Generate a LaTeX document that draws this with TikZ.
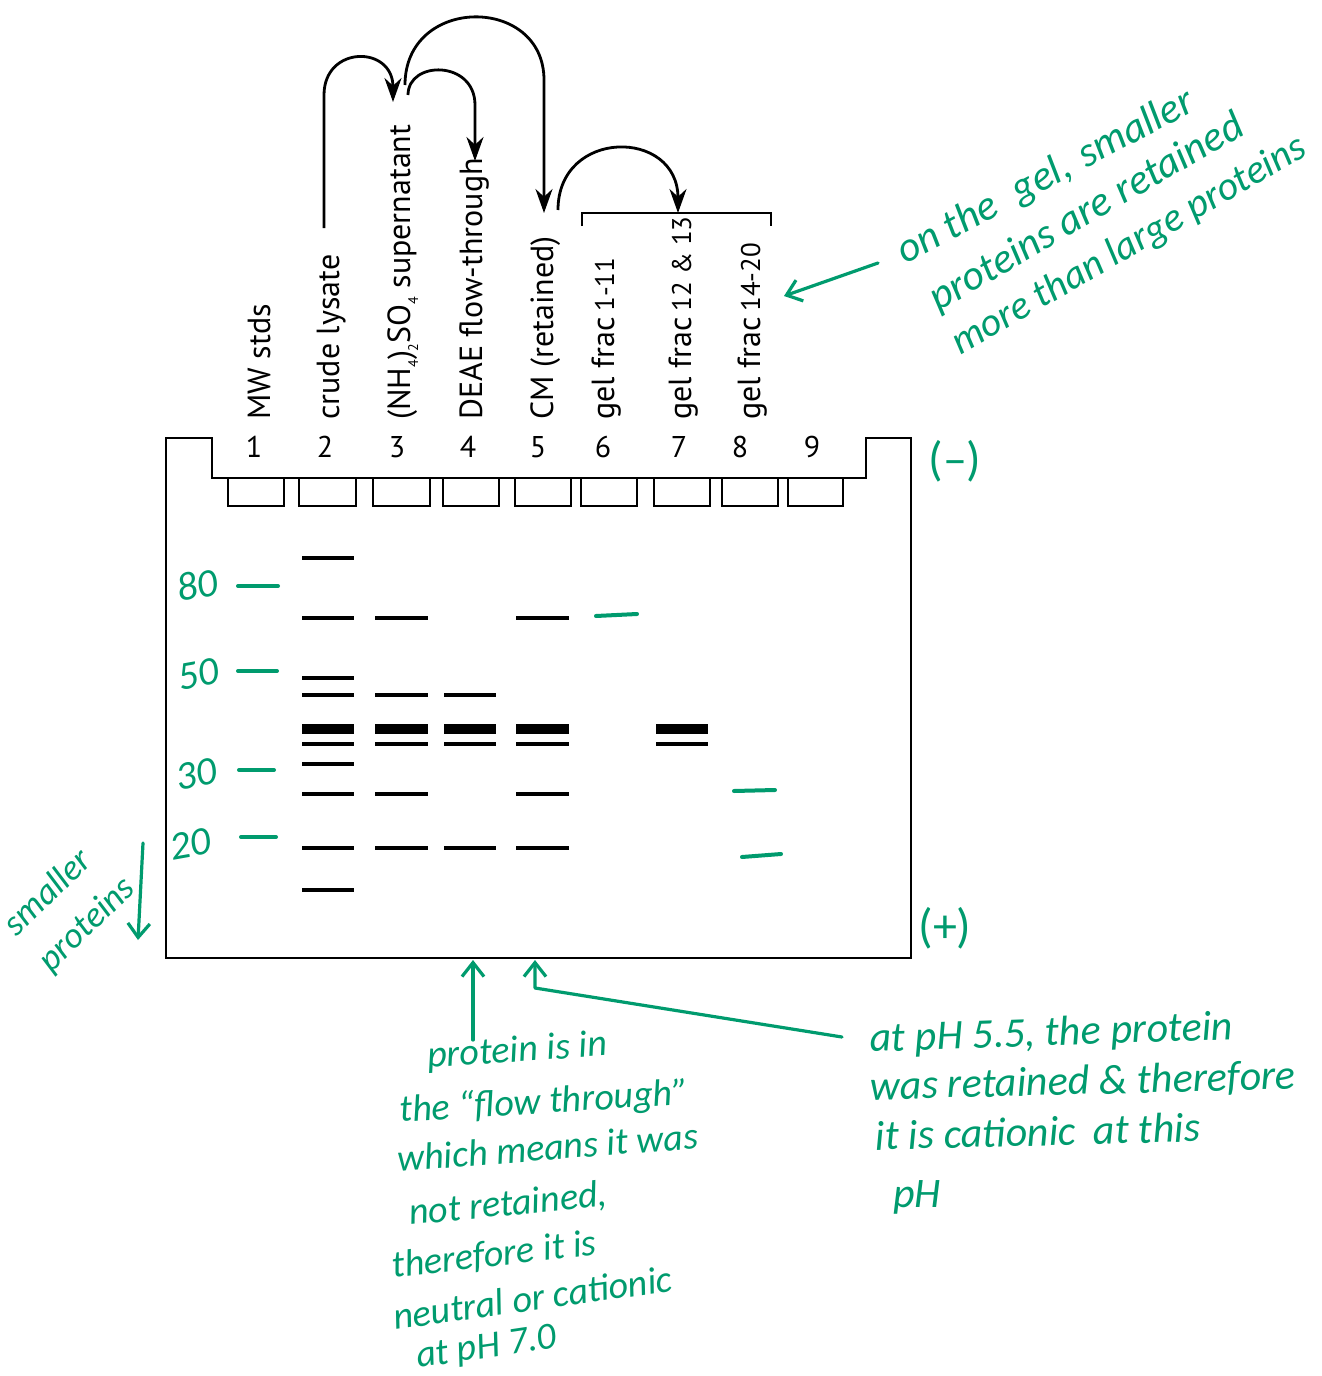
\documentclass[tikz,border=0pt]{standalone}
\usepackage{fontspec}
\setmainfont{PT Sans}
\newfontfamily\handfont{Carlito}
\usetikzlibrary{arrows.meta}
\definecolor{gcol}{RGB}{0,155,110}
\newcommand\subsc[1]{\raisebox{-0.5ex}{\fontsize{7}{8}\selectfont #1}}
\newcommand\dg[1]{{\fontsize{13.5}{16}\selectfont #1}}
\begin{document}
\begin{tikzpicture}[x=0.5pt,y=-0.5pt,
  lane/.style={rotate=90,anchor=base west,inner sep=0pt,font=\fontsize{16}{19}\selectfont},
  num/.style={inner sep=0pt,font=\fontsize{15}{17}\selectfont},
  flow/.style={line width=1.4pt,-{Stealth[length=12pt,width=8.5pt]}},
  gel/.style={line width=1.2pt,line join=miter},
  well/.style={line width=1.3pt},
  band/.style={fill=black},
  note/.style={inner sep=0pt,anchor=base west,text=gcol,font=\handfont\itshape\fontsize{19}{22}\selectfont},
  bignote/.style={note,font=\handfont\itshape\fontsize{21}{24}\selectfont},
  sign/.style={inner sep=0pt,text=gcol,font=\handfont\fontsize{24}{26}\selectfont},
  mwlab/.style={inner sep=0pt,text=gcol,font=\handfont\itshape\fontsize{20}{22}\selectfont},
  handline/.style={draw=gcol,line width=1.6pt,line cap=round,line join=round},
  handtip/.style={handline,-{Straight Barb[length=7pt,width=11pt]}},
  gband/.style={draw=gcol,line width=2pt,line cap=round}
]
\useasboundingbox (0,0) rectangle (1322,1376);
\fill[white] (0,0) rectangle (1322,1376);

% ---- gel outline ----
\draw[gel] (166,438) -- (212,438) -- (212,478) -- (866,478) -- (866,438) -- (911,438)
  -- (911,958) -- (166,958) -- cycle;
\coordinate (gelbot1) at (473,960);
\coordinate (gelbot2) at (535,960);

% ---- wells ----
\foreach \a/\b in {228/284,299/356,373/430,443/499,515/571,581/637,654/710,722/778,788/843}
  \draw[well] (\a,478) -- (\a,506) -- (\b,506) -- (\b,478);

% ---- lane numbers ----
\foreach \x [count=\i] in {254,325,397,468,538,603,679,740,812}
  \node[num] (n\i) at (\x,447) {\i};

% ---- lane labels ----
\node[lane] (lab1) at (270,420) {MW stds};
\node[lane] (lab2) at (339,420) {crude lysate};
\node[lane] (lab3) at (410,420) {(NH\subsc{4})\subsc{2}SO\subsc{4} supernatant};
\node[lane] (lab4) at (482,420) {DEAE flow-through};
\node[lane] (lab5) at (553,420) {CM (retained)};
\node[lane] (lab6) at (614,420) {gel frac\,\dg{1-11}};
\node[lane] (lab7) at (691,420) {gel frac\,\dg{12 \& 13}};
\node[lane] (lab8) at (760,420) {gel frac\,\dg{14-20}};

% ---- flow arrows ----
\coordinate (a1s) at (324,228);
\coordinate (a1e) at (393,102);
\coordinate (a2s) at (405,85);
\coordinate (a2e) at (544,213);
\coordinate (a3s) at (408,95);
\coordinate (a3e) at (475,161);
\coordinate (a4s) at (558,210);
\coordinate (a4e) at (678,213);
\draw[flow] (a1s) -- (324,95) .. controls (324,45) and (393,45) .. (a1e);
\draw[flow] (a2s) .. controls (405,-5) and (544,-5) .. (544,80) -- (a2e);
\draw[flow] (a3s) .. controls (408,60) and (475,60) .. (475,105) -- (a3e);
\draw[flow] (a4s) .. controls (558,128) and (678,128) .. (a4e);
% bracket
\coordinate (brL) at (582,226);
\coordinate (brR) at (771,226);
\draw[line width=1.4pt] (brL) -- (582,213) -- (771,213) -- (brR);

% ---- black bands ----
\foreach \xa/\xb/\ys in {302/354/{558,618,678,695,744,764,794,848,890},
                          375/428/{618,695,744,794,848},
                          444/496/{695,744,848},
                          516/569/{618,744,794,848},
                          656/708/{744}}{
  \foreach \y in \ys \fill[band] (\xa,\y-1.6) rectangle (\xb,\y+1.6);
  \fill[band] (\xa,724) rectangle (\xb,734);
}

% ---- green bands / MW markers ----
\draw[gband] (238,586) -- (278,586);
\draw[gband] (238,671) -- (277,671);
\draw[gband] (239,770) -- (274,770);
\draw[gband] (241,837) -- (276,837);
\draw[gband] (596,616) -- (637,614);
\draw[gband] (734,791) -- (775,790);
\draw[gband] (742,857) -- (781,854);
\node[mwlab,rotate=10] (m80) at (197,585) {80};
\node[mwlab,rotate=10] (m50) at (198,674) {50};
\node[mwlab,rotate=10] (m30) at (196,774) {30};
\node[mwlab,rotate=10] (m20) at (190,844) {20};

% ---- polarity ----
\node[sign] (neg) at (955,461) {(\textendash)};
\node[sign] (pos) at (945,928) {(+)};

% ---- top-right note ----
\node[bignote,rotate=28] (t1) at (905,265) {on the\hspace{6pt} gel,\hspace{2pt} smaller};
\node[bignote,rotate=30] (t2) at (938,312) {proteins are retained};
\node[note,rotate=30,font=\handfont\itshape\fontsize{20}{23}\selectfont] (t3) at (960,356) {more than large proteins};
\coordinate (ta1) at (878,263);
\coordinate (ta2) at (784,296);
\draw[handtip] (ta1) -- (ta2);

% ---- left note ----
\node[note,anchor=center,rotate=44,align=left,font=\handfont\itshape\fontsize{18}{25}\selectfont]
  (sm) at (70,907) {smaller\\proteins};
\coordinate (la1) at (143,843);
\coordinate (la2) at (138,940);
\draw[handtip] (la1) -- (la2);

% ---- bottom middle note ----
\node[note,rotate=4]   (b1) at (428,1068) {protein is in};
\node[note,rotate=3.5] (b2) at (400,1122) {the “flow through”};
\node[note,rotate=4.5] (b3) at (398,1172) {which means it was};
\node[note,rotate=5.5] (b4) at (410,1225) {not retained,};
\node[note,rotate=6.5] (b5) at (393,1278) {therefore it is};
\node[note,rotate=8]   (b6) at (395,1330) {neutral or cationic};
\node[note,rotate=8.5] (b7) at (418,1368) {at pH 7.0};
\coordinate (ba1) at (473,1040);
\draw[handtip] (ba1) -- (gelbot1);

% ---- bottom right note ----
\node[bignote,rotate=2]   (r1) at (870,1052) {at pH 5.5, the protein};
\node[bignote,rotate=1.5] (r2) at (870,1100) {was retained \& therefore};
\node[bignote,rotate=1.5] (r3) at (875,1150) {it is cationic\hspace{4pt} at this};
\node[bignote]            (r4) at (893,1207) {pH};
\coordinate (ra1) at (842,1037);
\draw[handtip] (ra1) -- (535,988) -- (gelbot2);
\end{tikzpicture}
\end{document}
